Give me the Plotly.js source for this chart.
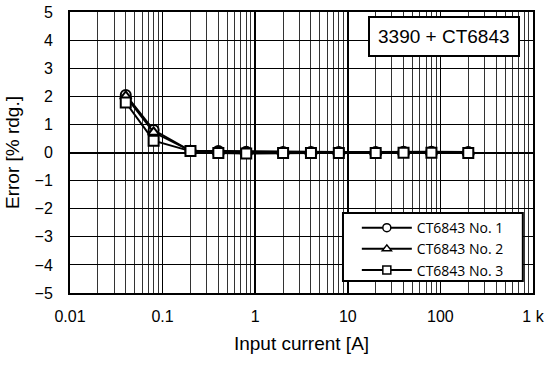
<!DOCTYPE html>
<html><head><meta charset="utf-8">
<script src="https://cdn.plot.ly/plotly-3.0.1.min.js"></script>
<style>html,body{margin:0;padding:0;background:#fff}</style>
</head><body><div id="chart" style="width:550px;height:367px"></div>
<script>
const current = [0.04, 0.08, 0.2, 0.4, 0.8, 2, 4, 8, 20, 40, 80, 200];
const no1 = [2.05, 0.80, 0.06, 0.05, 0.03, 0.02, 0.02, 0.02, 0.02, 0.03, 0.03, 0.02];
const no2 = [2.00, 0.72, 0.06, 0.03, 0.01, 0.01, 0.01, 0.01, 0.01, 0.02, 0.02, 0.01];
const no3 = [1.78, 0.42, 0.05, -0.02, -0.04, -0.02, -0.02, -0.02, -0.02, -0.01, -0.01, -0.02];
const names = ['CT6843 No. 1', 'CT6843 No. 2', 'CT6843 No. 3'];
const symbols = ['circle', 'triangle-up', 'square'];
const xTickVals = [0.01, 0.1, 1, 10, 100, 1000];
const xTickText = ['0.01', '0.1', '1', '10', '100', '1 k'];
const yTickVals = [-5, -4, -3, -2, -1, 0, 1, 2, 3, 4, 5];
const yTickText = ['\u22125', '\u22124', '\u22123', '\u22122', '\u22121', '0', '1', '2', '3', '4', '5'];

const series = [no1, no2, no3];
const traces = series.map((ys, i) => ({
  x: current, y: ys, name: names[i], type: 'scatter', mode: 'lines+markers',
  showlegend: false,
  line: {color: '#000', width: 2},
  marker: {symbol: symbols[i], size: 10, color: '#fff', line: {color: '#000', width: 2}}
}));
// legend-only entries (smaller legend markers, as in the reference)
const legendTraces = series.map((ys, i) => ({
  x: [null], y: [null], name: names[i], type: 'scatter', mode: 'lines+markers',
  showlegend: true,
  line: {color: '#000', width: 2},
  marker: {symbol: symbols[i], size: 8, color: '#fff', line: {color: '#000', width: 1.5}}
}));

const layout = {
  width: 550, height: 367,
  margin: {l: 70, r: 17, t: 12, b: 74},
  paper_bgcolor: '#fff', plot_bgcolor: '#fff',
  font: {family: 'Liberation Sans, Arial, sans-serif', size: 16, color: '#000'},
  showlegend: true,
  legend: {
    x: 0.6195, y: 0.288, xanchor: 'left', yanchor: 'top',
    bgcolor: 'rgba(0,0,0,0)', borderwidth: 0,
    font: {family: "'Open Sans', sans-serif", size: 14, color: '#000'},
    itemwidth: 50, tracegroupgap: 0
  },
  shapes: [{
    type: 'rect', xref: 'paper', yref: 'paper', layer: 'above',
    x0: 0.5896, x1: 0.978, y0: 0.0427, y1: 0.285,
    line: {color: '#000', width: 2}, fillcolor: '#fff'
  }],
  xaxis: {
    type: 'log', range: [-2, 3],
    tickvals: xTickVals, ticktext: xTickText, ticks: '',
    ticklabelstandoff: 8,
    showgrid: true, gridcolor: '#000', gridwidth: 1.5,
    minor: {dtick: 'D1', showgrid: true, gridcolor: '#333', gridwidth: 1, ticks: ''},
    showline: true, mirror: true, linecolor: '#000', linewidth: 2,
    zeroline: false,
    title: {text: 'Input current [A]', font: {size: 19}, standoff: 12},
    tickfont: {size: 16}
  },
  yaxis: {
    range: [-5, 5], tickvals: yTickVals, ticktext: yTickText, ticks: '',
    ticklabelstandoff: 12,
    showgrid: true, gridcolor: '#000', gridwidth: 1.2,
    showline: true, mirror: true, linecolor: '#000', linewidth: 2,
    zeroline: true, zerolinecolor: '#000', zerolinewidth: 2,
    title: {text: 'Error [% rdg.]', font: {size: 19}, standoff: 10},
    tickfont: {size: 16}
  },
  annotations: [{
    xref: 'paper', yref: 'paper', x: 0.972, y: 0.986, xanchor: 'right', yanchor: 'top',
    text: '3390 + CT6843', showarrow: false,
    font: {size: 19, color: '#000'},
    bgcolor: '#fff', bordercolor: '#000', borderwidth: 2, borderpad: 8
  }]
};

Plotly.newPlot('chart', traces.concat(legendTraces), layout, {displayModeBar: false, staticPlot: true});
</script></body></html>
